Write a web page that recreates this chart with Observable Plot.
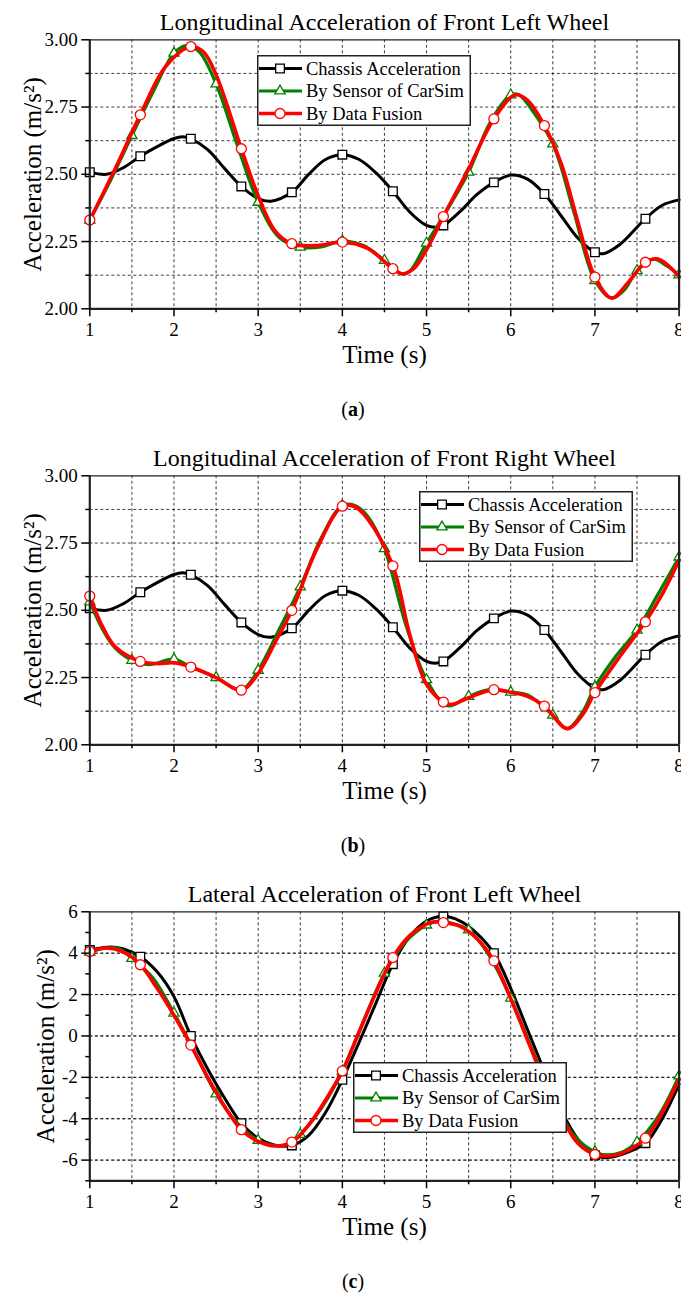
<!DOCTYPE html>
<html>
<head>
<meta charset="utf-8">
<script src="https://cdn.jsdelivr.net/npm/d3@7"></script>
<script src="https://cdn.jsdelivr.net/npm/@observablehq/plot@0.6"></script>
<style>
  body { margin: 0; background: #fff; }
  #fig { position: relative; width: 681px; height: 1295px; overflow: hidden;
         font-family: "Liberation Serif", "Times New Roman", serif; color: #000; }
  .panel { position: absolute; left: 0; width: 681px; height: 436px; }
  .caption { position: absolute; font-size: 20px; line-height: 20px; transform: translateX(-50%);
             white-space: nowrap; font-family: "Liberation Serif", "Times New Roman", serif; }
  .legend { position: absolute; }
</style>
</head>
<body>
<div id="fig"></div>
<script>
// ---------- data ----------
const titles = [
  "Longitudinal Acceleration of Front Left Wheel",
  "Longitudinal Acceleration of Front Right Wheel",
  "Lateral Acceleration of Front Left Wheel"
];
const captions = ["a", "b", "c"];
const seriesNames = ["Chassis Acceleration", "By Sensor of CarSim", "By Data Fusion"];

const squareTimes = [1, 1.6, 2.2, 2.8, 3.4, 4.0, 4.6, 5.2, 5.8, 6.4, 7.0, 7.6];
const triangleTimes = [1, 1.5, 2, 2.5, 3, 3.5, 4, 4.5, 5, 5.5, 6, 6.5, 7, 7.5, 8];
const circleTimes = [1, 1.6, 2.2, 2.8, 3.4, 4.0, 4.6, 5.2, 5.8, 6.4, 7.0, 7.6];

const xMajor = [1, 2, 3, 4, 5, 6, 7, 8];
const xMinor = [1.5, 2.5, 3.5, 4.5, 5.5, 6.5, 7.5];
const longMajor = [2.00, 2.25, 2.50, 2.75, 3.00];
const longMinor = [2.125, 2.375, 2.625, 2.875];
const latMajor = [-6, -4, -2, 0, 2, 4, 6];
const latMinor = [-7, -5, -3, -1, 1, 3, 5];

// Chassis longitudinal acceleration (same in a and b)
const chassisLong = [
  [1.0, 2.508], [1.2, 2.500], [1.4, 2.525], [1.6, 2.567], [1.8, 2.603], [2.0, 2.633], [2.1, 2.640],
  [2.2, 2.632], [2.4, 2.592], [2.6, 2.522], [2.8, 2.455], [3.0, 2.410], [3.15, 2.400], [3.4, 2.433],
  [3.6, 2.500], [3.8, 2.555], [4.0, 2.573], [4.2, 2.555], [4.4, 2.505], [4.6, 2.437], [4.8, 2.360],
  [5.0, 2.310], [5.1, 2.303], [5.2, 2.310], [5.4, 2.362], [5.6, 2.425], [5.8, 2.470], [6.0, 2.497],
  [6.2, 2.482], [6.4, 2.427], [6.6, 2.345], [6.8, 2.262], [7.0, 2.210], [7.1, 2.205], [7.3, 2.240],
  [7.6, 2.335], [7.8, 2.385], [8.0, 2.405]
];
// (a) front left, longitudinal
const sensorA = [
  [1.0, 2.330], [1.25, 2.480], [1.5, 2.644], [1.75, 2.805], [2.0, 2.950], [2.15, 2.978], [2.3, 2.955],
  [2.5, 2.836], [2.75, 2.610], [3.0, 2.396], [3.25, 2.265], [3.5, 2.229], [3.75, 2.230], [4.0, 2.252],
  [4.25, 2.235], [4.5, 2.180], [4.7, 2.130], [4.8, 2.140], [5.0, 2.244], [5.25, 2.370], [5.5, 2.508],
  [5.75, 2.690], [6.0, 2.795], [6.1, 2.795], [6.25, 2.740], [6.5, 2.613], [6.75, 2.360], [7.0, 2.105],
  [7.2, 2.040], [7.35, 2.070], [7.5, 2.142], [7.7, 2.185], [7.85, 2.160], [8.0, 2.126]
];
const fusionA = [
  [1.0, 2.330], [1.3, 2.520], [1.6, 2.721], [1.9, 2.900], [2.2, 2.975], [2.35, 2.955], [2.5, 2.870],
  [2.8, 2.595], [3.0, 2.420], [3.2, 2.290], [3.4, 2.242], [3.7, 2.235], [4.0, 2.248], [4.3, 2.225],
  [4.6, 2.149], [4.72, 2.130], [4.85, 2.150], [5.0, 2.220], [5.2, 2.343], [5.5, 2.520], [5.8, 2.706],
  [6.05, 2.795], [6.2, 2.775], [6.4, 2.681], [6.6, 2.540], [6.8, 2.320], [7.0, 2.118], [7.2, 2.040],
  [7.4, 2.100], [7.6, 2.173], [7.75, 2.185], [8.0, 2.120]
];
// (b) front right, longitudinal
const sensorB = [
  [1.0, 2.531], [1.15, 2.430], [1.3, 2.360], [1.5, 2.314], [1.7, 2.298], [2.0, 2.318], [2.2, 2.290],
  [2.5, 2.250], [2.8, 2.205], [3.0, 2.277], [3.25, 2.430], [3.5, 2.587], [3.75, 2.770], [4.0, 2.890],
  [4.15, 2.890], [4.3, 2.850], [4.5, 2.729], [4.75, 2.450], [5.0, 2.242], [5.25, 2.145], [5.5, 2.180],
  [5.75, 2.205], [6.0, 2.196], [6.2, 2.185], [6.5, 2.110], [6.67, 2.060], [6.85, 2.120], [7.0, 2.215],
  [7.25, 2.330], [7.5, 2.426], [7.75, 2.560], [8.0, 2.698]
];
const fusionB = [
  [1.0, 2.553], [1.15, 2.440], [1.3, 2.365], [1.6, 2.310], [1.8, 2.302], [2.0, 2.305], [2.2, 2.289],
  [2.5, 2.250], [2.8, 2.203], [3.0, 2.265], [3.2, 2.380], [3.4, 2.500], [3.7, 2.730], [4.0, 2.887],
  [4.15, 2.885], [4.3, 2.840], [4.6, 2.665], [4.8, 2.410], [5.0, 2.225], [5.2, 2.159], [5.3, 2.150],
  [5.5, 2.175], [5.8, 2.205], [6.0, 2.195], [6.2, 2.180], [6.4, 2.144], [6.67, 2.060], [6.85, 2.110],
  [7.0, 2.194], [7.3, 2.330], [7.6, 2.457], [7.8, 2.560], [8.0, 2.686]
];
// (c) front left, lateral
const chassisC = [
  [1.0, 4.15], [1.25, 4.30], [1.4, 4.20], [1.6, 3.83], [1.8, 3.10], [2.0, 1.90], [2.2, 0.00],
  [2.4, -1.60], [2.6, -3.00], [2.8, -4.22], [3.0, -4.95], [3.2, -5.28], [3.4, -5.29], [3.6, -4.80],
  [3.8, -3.70], [4.0, -2.12], [4.2, -0.30], [4.4, 1.60], [4.6, 3.47], [4.8, 4.80], [5.0, 5.55],
  [5.2, 5.78], [5.4, 5.55], [5.6, 4.95], [5.8, 4.00], [6.0, 2.30], [6.2, 0.30], [6.4, -1.70],
  [6.6, -3.60], [6.8, -5.00], [7.0, -5.77], [7.15, -5.88], [7.3, -5.75], [7.6, -5.18], [7.8, -4.00],
  [8.0, -2.33]
];
const sensorC = [
  [1.0, 4.05], [1.2, 4.25], [1.35, 4.22], [1.5, 3.75], [1.75, 2.80], [2.0, 1.10], [2.25, -0.80],
  [2.5, -2.80], [2.75, -4.20], [3.0, -5.05], [3.2, -5.30], [3.35, -5.25], [3.5, -4.76], [3.75, -3.50],
  [4.0, -1.70], [4.25, 0.70], [4.5, 3.03], [4.75, 4.55], [5.0, 5.36], [5.15, 5.55], [5.3, 5.45],
  [5.5, 5.12], [5.75, 3.85], [6.0, 1.83], [6.25, -0.60], [6.5, -3.00], [6.75, -4.80], [7.0, -5.60],
  [7.15, -5.75], [7.3, -5.65], [7.5, -5.13], [7.75, -3.90], [8.0, -1.93]
];
const fusionC = [
  [1.0, 4.08], [1.2, 4.25], [1.4, 4.05], [1.6, 3.44], [1.8, 2.30], [2.0, 1.00], [2.2, -0.44],
  [2.4, -2.00], [2.6, -3.40], [2.8, -4.53], [3.0, -5.10], [3.2, -5.32], [3.4, -5.13], [3.6, -4.30],
  [3.8, -3.10], [4.0, -1.69], [4.2, 0.20], [4.4, 2.10], [4.6, 3.79], [4.8, 4.85], [5.0, 5.40],
  [5.1, 5.52], [5.2, 5.48], [5.4, 5.30], [5.6, 4.70], [5.8, 3.63], [6.0, 1.80], [6.2, -0.20],
  [6.4, -2.20], [6.6, -3.90], [6.8, -5.20], [7.0, -5.73], [7.15, -5.80], [7.3, -5.70], [7.6, -4.94],
  [7.8, -3.70], [8.0, -2.10]
];

// ---------- styles ----------
const styles = [
  {color: "#000000", width: 3.0, symbol: "square", r: 4.9, times: squareTimes},
  {color: "#008000", width: 3.2, symbol: "triangle", r: 3.8, times: triangleTimes},
  {color: "#ff0000", width: 3.6, symbol: "circle", r: 5.0, times: circleTimes}
];

const panels = [
  {top: 0, series: [chassisLong, sensorA, fusionA], yDomain: [2, 3], yMajor: longMajor, yMinor: longMinor,
   yGrid: longMinor, fmt: d => d.toFixed(2), labelDx: -49, legend: {left: 257, top: 55}},
  {top: 436.2, series: [chassisLong, sensorB, fusionB], yDomain: [2, 3], yMajor: longMajor, yMinor: longMinor,
   yGrid: longMinor, fmt: d => d.toFixed(2), labelDx: -49, legend: {left: 419, top: 54.5}},
  {top: 872.4, series: [chassisC, sensorC, fusionC], yDomain: [-7, 6], yMajor: latMajor, yMinor: latMinor,
   yGrid: [-6, -4, -2, 0, 2, 4], fmt: d => String(d), labelDx: -35.5, legend: {left: 353, top: 189.5}}
];

const fig = document.getElementById("fig");
const near = (list) => (d) => list.some(m => Math.abs(m - d.t) < 1e-6);
const gridStyle = {stroke: "#000", strokeOpacity: 0.85, strokeWidth: 0.9, strokeDasharray: "3,2.5"};
const serif = "'Liberation Serif', 'Times New Roman', serif";

panels.forEach((p, i) => {
  const div = document.createElement("div");
  div.className = "panel";
  div.style.top = p.top + "px";
  fig.appendChild(div);

  const marks = [
    Plot.gridX(xMinor.concat(xMajor.slice(1, -1)), gridStyle),
    Plot.gridY(p.yGrid.concat(p.yMajor.filter(v => v > p.yDomain[0] && v < p.yDomain[1])), gridStyle)
  ];
  p.series.forEach((arr, k) => {
    const s = styles[k];
    const rows = arr.map(([t, v]) => ({t, v}));
    marks.push(Plot.line(rows, {x: "t", y: "v", curve: "catmull-rom", stroke: s.color, strokeWidth: s.width}));
    marks.push(Plot.dot(rows.filter(near(s.times)), {x: "t", y: "v", symbol: s.symbol, r: s.r,
      fill: "white", stroke: s.color, strokeWidth: 1.3}));
  });
  marks.push(
    Plot.ruleY([p.yDomain[1]], {stroke: "#222", strokeWidth: 1.2}),
    Plot.ruleX([1, 8], {stroke: "#222", strokeWidth: 2.2}),
    Plot.ruleY([p.yDomain[0]], {stroke: "#222", strokeWidth: 2.2}),
    Plot.axisY(p.yMajor, {tickSize: 8, tickPadding: 4, fontSize: 19, tickFormat: p.fmt, label: null, strokeWidth: 1.5}),
    Plot.axisY(p.yMinor, {tickSize: 4, tickFormat: () => "", label: null, strokeWidth: 1.5}),
    Plot.axisX(xMajor, {tickSize: 8, tickPadding: 6, fontSize: 19, tickFormat: d => String(d), label: null, strokeWidth: 1.5}),
    Plot.axisX(xMinor, {tickSize: 4, tickFormat: () => "", label: null, strokeWidth: 1.5}),
    Plot.text([titles[i]], {frameAnchor: "top", dy: -10, lineAnchor: "bottom", textAnchor: "middle",
      fontSize: 24, text: d => d}),
    Plot.text(["Time (s)"], {frameAnchor: "bottom", dy: 54.5, lineAnchor: "bottom", textAnchor: "middle",
      fontSize: 25, text: d => d}),
    Plot.text(["Acceleration (m/s²)"], {frameAnchor: "left", dx: p.labelDx, rotate: -90, lineAnchor: "bottom",
      textAnchor: "middle", fontSize: 25, text: d => d})
  );

  const chart = Plot.plot({
    width: 681, height: 436,
    marginLeft: 89.3, marginRight: 2.4, marginTop: 39.3, marginBottom: 127.7,
    x: {domain: [1, 8]},
    y: {domain: p.yDomain},
    style: {fontFamily: serif, fontSize: "18px", color: "#000", background: "white", overflow: "visible"},
    marks
  });
  div.appendChild(chart);

  // caption
  const cap = document.createElement("div");
  cap.className = "caption";
  cap.style.left = "353px";
  cap.style.top = "399px";
  cap.innerHTML = `(<b>${captions[i]}</b>)`;
  div.appendChild(cap);

  // legend
  const W = 214, H = 71, rowsY = [13.5, 36, 58.5];
  const lg = d3.create("svg").attr("class", "legend").attr("width", W).attr("height", H)
    .style("left", p.legend.left + "px").style("top", p.legend.top + "px");
  lg.append("rect").attr("x", 0.75).attr("y", 0.75).attr("width", W - 1.5).attr("height", H - 1.5)
    .attr("fill", "white").attr("stroke", "#222").attr("stroke-width", 1.5);
  styles.forEach((s, k) => {
    const y = rowsY[k];
    lg.append("line").attr("x1", 2).attr("x2", 45).attr("y1", y).attr("y2", y)
      .attr("stroke", s.color).attr("stroke-width", s.width);
    const sym = {square: d3.symbolSquare, triangle: d3.symbolTriangle, circle: d3.symbolCircle}[s.symbol];
    lg.append("path").attr("d", d3.symbol(sym, Math.PI * s.r * s.r)())
      .attr("transform", `translate(23,${y})`).attr("fill", "white").attr("stroke", s.color).attr("stroke-width", 1.3);
    lg.append("text").attr("x", 49).attr("y", y + 6).attr("font-size", 18.5)
      .attr("font-family", serif).attr("fill", "#000").text(seriesNames[k]);
  });
  div.appendChild(lg.node());
});
</script>
</body>
</html>
